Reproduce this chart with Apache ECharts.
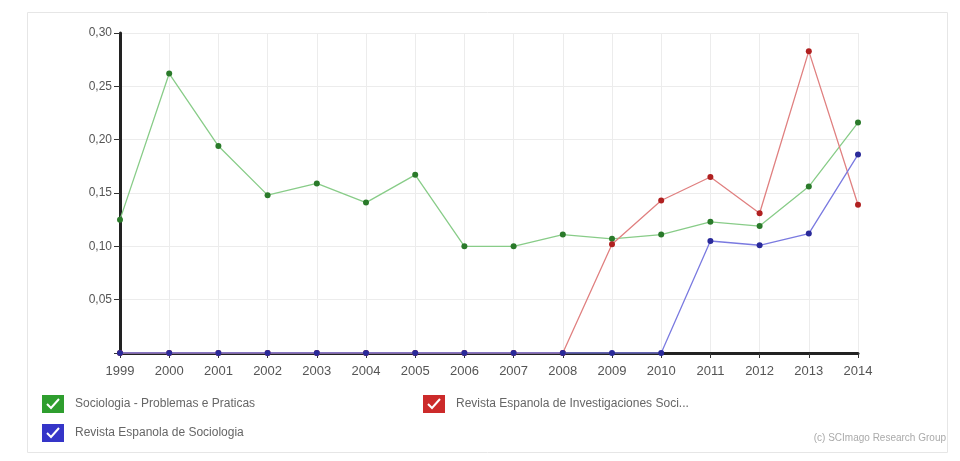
<!DOCTYPE html>
<html><head><meta charset="utf-8">
<script src="https://cdn.jsdelivr.net/npm/echarts@6/dist/echarts.min.js"></script>
<style>html,body{margin:0;padding:0;background:#fff}#c{width:960px;height:461px}</style>
</head><body><div id="c"></div>
<script>
const years = ['1999','2000','2001','2002','2003','2004','2005','2006','2007','2008','2009','2010','2011','2012','2013','2014'];
const yTicks = [0, 0.05, 0.10, 0.15, 0.20, 0.25, 0.30];
const greenName = 'Sociologia - Problemas e Praticas';
const redName = 'Revista Espanola de Investigaciones Soci...';
const blueName = 'Revista Espanola de Sociologia';
const greenVals = [0.125,0.262,0.194,0.148,0.159,0.141,0.167,0.100,0.100,0.111,0.107,0.111,0.123,0.119,0.156,0.216];
const redVals   = [0,0,0,0,0,0,0,0,0,0,0.102,0.143,0.165,0.131,0.283,0.139];
const blueVals  = [0,0,0,0,0,0,0,0,0,0,0,0,0.105,0.101,0.112,0.186];

const chart = echarts.init(document.getElementById('c'));
const legText = {color:'#666', fontSize:12, fontFamily:'Liberation Sans, Arial, sans-serif', padding:[0,0,0,6]};
function check(x,y){
  return {type:'polyline', shape:{points:[[x+5,y+9],[x+9,y+13],[x+17,y+4]]}, style:{stroke:'#fff', lineWidth:2, fill:null}, z:100};
}
chart.setOption({
  animation:false,
  grid:{left:120, right:102, top:33, bottom:108},
  xAxis:{type:'category', data:years, boundaryGap:false,
    axisLine:{lineStyle:{color:'#222', width:3}},
    axisTick:{show:true, inside:false, length:5, lineStyle:{color:'#333'}},
    axisLabel:{color:'#555', fontSize:13, margin:12, fontFamily:'Liberation Sans, Arial, sans-serif'},
    splitLine:{show:true, lineStyle:{color:'#ececec'}}},
  yAxis:{type:'value', min:yTicks[0], max:yTicks[yTicks.length-1], interval:0.05,
    axisLine:{show:true, lineStyle:{color:'#222', width:3}},
    axisTick:{show:true, length:6, lineStyle:{color:'#333'}},
    axisLabel:{color:'#555', fontSize:12, margin:8, fontFamily:'Liberation Sans, Arial, sans-serif',
      formatter:v=> v===0 ? '' : v.toFixed(2).replace('.',',')},
    splitLine:{show:true, lineStyle:{color:'#ececec'}}},
  legend:[
    {left:42, top:395, padding:0, itemWidth:22, itemHeight:18, icon:'rect', textStyle:legText,
     data:[{name:greenName, itemStyle:{color:'#2e9e2e'}}]},
    {left:423, top:395, padding:0, itemWidth:22, itemHeight:18, icon:'rect', textStyle:legText,
     data:[{name:redName, itemStyle:{color:'#cc2a2a'}}]},
    {left:42, top:424, padding:0, itemWidth:22, itemHeight:18, icon:'rect', textStyle:legText,
     data:[{name:blueName, itemStyle:{color:'#3535c8'}}]}
  ],
  graphic:[
    {type:'rect', shape:{x:27.5,y:12.5,width:920,height:440}, style:{fill:null, stroke:'#e6e6e6', lineWidth:1}, z:-10},
    check(42,395), check(423,395), check(42,424),
    {type:'text', right:14, top:433, style:{text:'(c) SCImago Research Group', fill:'#aaa', fontSize:10, fontFamily:'Liberation Sans, Arial, sans-serif'}}
  ],
  series:[
    {name:greenName, type:'line', data:greenVals, symbol:'circle', symbolSize:6,
     lineStyle:{color:'#88cc88', width:1.3}, itemStyle:{color:'#2a7a2a'}, z:3},
    {name:redName, type:'line', data:redVals, symbol:'circle', symbolSize:6,
     lineStyle:{color:'#e08080', width:1.3}, itemStyle:{color:'#b02020'}, z:4},
    {name:blueName, type:'line', data:blueVals, symbol:'circle', symbolSize:6,
     lineStyle:{color:'#7a7ae0', width:1.3}, itemStyle:{color:'#2a2a9a'}, z:5}
  ]
});
</script></body></html>
